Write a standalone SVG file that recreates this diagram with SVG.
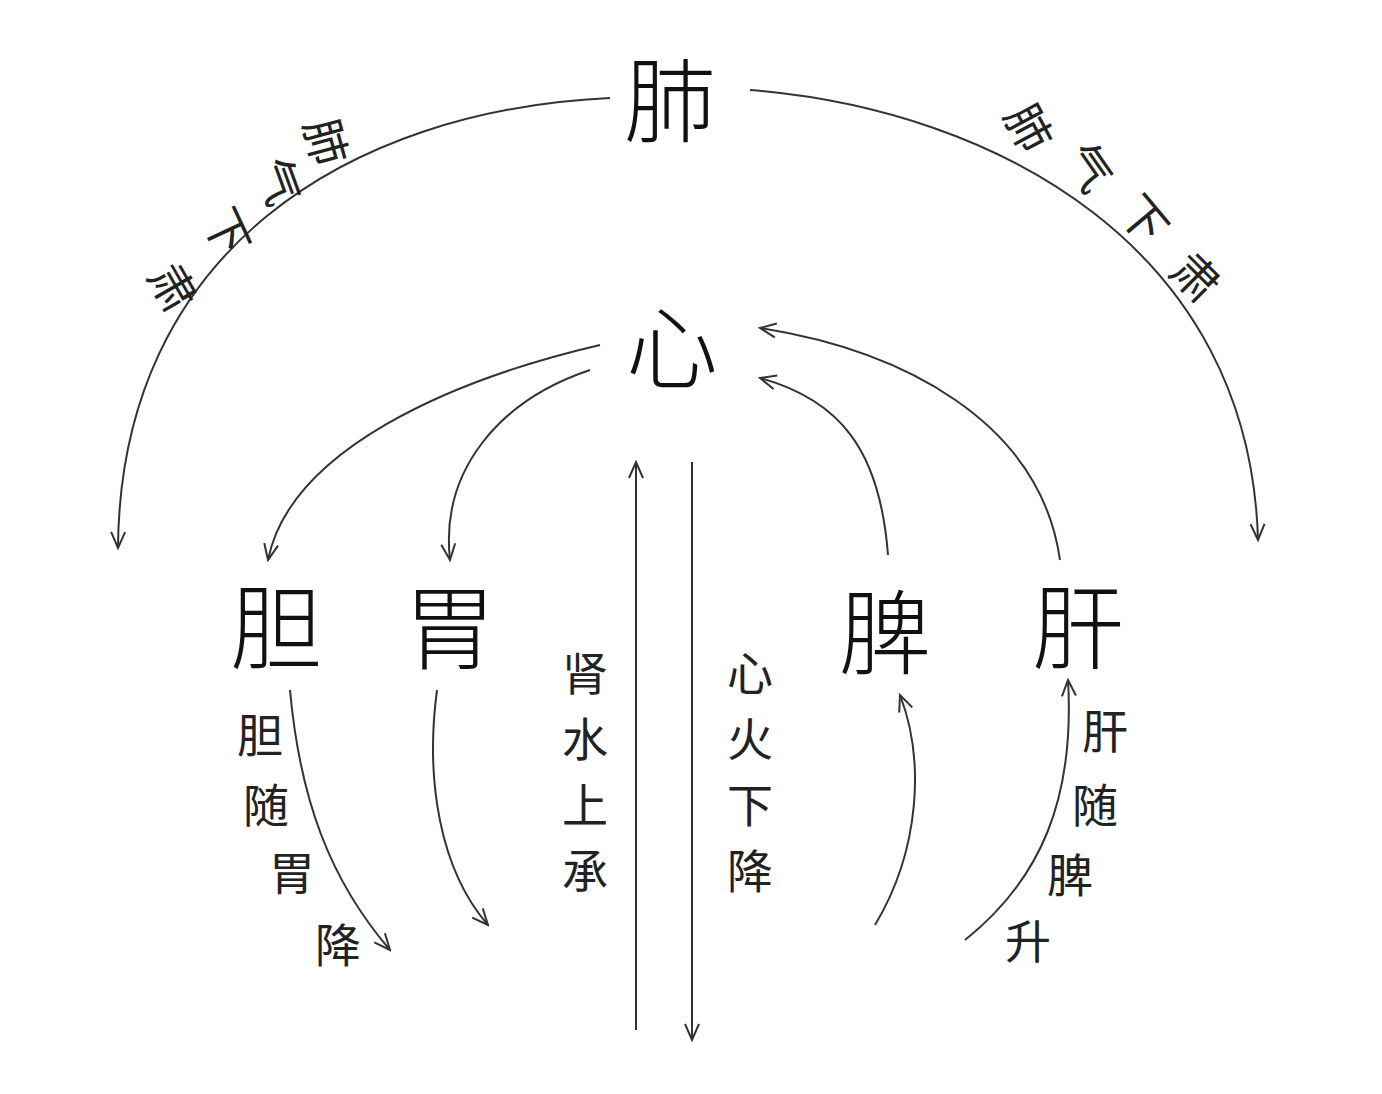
<svg xmlns="http://www.w3.org/2000/svg" width="1382" height="1094" viewBox="0 0 1382 1094">
<style>
.big{font-family:"Noto Sans CJK SC","Noto Sans CJK JP",sans-serif;font-size:92px;fill:#111;text-anchor:middle;font-weight:300}
.sm{font-family:"Noto Sans CJK SC","Noto Sans CJK JP",sans-serif;font-size:46px;fill:#222;text-anchor:middle}
.c{fill:none;stroke:#333;stroke-width:2;marker-end:url(#a)}
</style>
<defs><marker id="a" viewBox="0 0 20 20" refX="18" refY="10" markerWidth="20" markerHeight="20" markerUnits="userSpaceOnUse" orient="auto"><path d="M2,3 L18,10 L2,17" fill="none" stroke="#333" stroke-width="2"/></marker></defs>
<rect width="1382" height="1094" fill="#fff"/>
<g id="connectors">
<path class="c" d="M610,98 C350,110 120,250 118,548"/>
<path class="c" d="M750,90 C1000,110 1250,250 1258,540"/>
<path class="c" d="M600,345 C450,380 290,450 268,560"/>
<path class="c" d="M590,370 C500,400 440,470 450,560"/>
<path class="c" d="M888,555 C880,450 840,400 760,378"/>
<path class="c" d="M1060,560 C1040,420 900,350 760,328"/>
<path class="c" d="M636,1030 L636,462"/>
<path class="c" d="M692,462 L692,1040"/>
<path class="c" d="M290,690 C300,800 330,880 390,950"/>
<path class="c" d="M437,690 C425,780 440,870 488,925"/>
<path class="c" d="M875,925 C920,850 925,760 900,695"/>
<path class="c" d="M965,940 C1040,880 1075,800 1068,680"/>
</g>
<g id="fei"><text class="big" x="670" y="135">肺</text></g>
<g id="xin"><text class="big" x="672" y="382">心</text></g>
<g id="dan"><text class="big" x="276" y="662">胆</text></g>
<g id="wei"><text class="big" x="450" y="662">胃</text></g>
<g id="pi"><text class="big" x="885" y="667">脾</text></g>
<g id="gan"><text class="big" x="1078" y="662">肝</text></g>
<g id="label-left">
<text class="sm" transform="translate(325,142) rotate(75)" y="16">肺</text>
<text class="sm" transform="translate(278,182) rotate(70)" y="16">气</text>
<text class="sm" transform="translate(226,232) rotate(65)" y="16">下</text>
<text class="sm" transform="translate(172,288) rotate(60)" y="16">肃</text>
</g>
<g id="label-right">
<text class="sm" transform="translate(1028,128) rotate(62)" y="16">肺</text>
<text class="sm" transform="translate(1088,168) rotate(55)" y="16">气</text>
<text class="sm" transform="translate(1143,220) rotate(50)" y="16">下</text>
<text class="sm" transform="translate(1195,278) rotate(45)" y="16">肃</text>
</g>
<g id="label-shen">
<text class="sm" x="585" y="690">肾</text><text class="sm" x="585" y="756">水</text><text class="sm" x="585" y="822">上</text><text class="sm" x="585" y="888">承</text>
</g>
<g id="label-xinhuo">
<text class="sm" x="750" y="690">心</text><text class="sm" x="750" y="756">火</text><text class="sm" x="750" y="822">下</text><text class="sm" x="750" y="888">降</text>
</g>
<g id="label-dan">
<text class="sm" x="260" y="752">胆</text><text class="sm" x="266" y="822">随</text><text class="sm" x="292" y="890">胃</text><text class="sm" x="338" y="962">降</text>
</g>
<g id="label-gan">
<text class="sm" x="1105" y="748">肝</text><text class="sm" x="1095" y="822">随</text><text class="sm" x="1070" y="892">脾</text><text class="sm" x="1028" y="958">升</text>
</g>
</svg>
